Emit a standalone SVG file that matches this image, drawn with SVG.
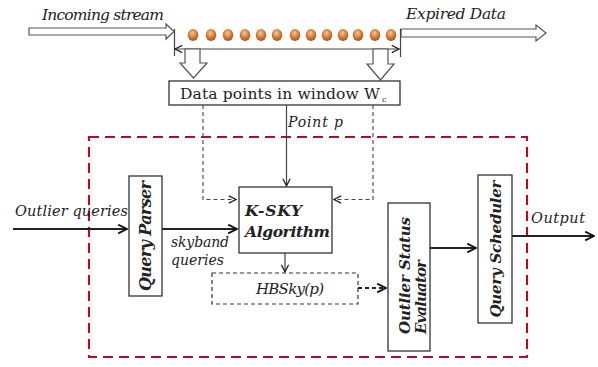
<svg xmlns="http://www.w3.org/2000/svg" width="598" height="367" viewBox="0 0 598 367">
<style>
.t{font-family:"DejaVu Serif","Liberation Serif",serif;fill:#222}
.it{font-style:italic}
.b{font-weight:bold}
.box{fill:#fff;stroke:#333;stroke-width:1.3}
.dbox{fill:#fff;stroke:#333;stroke-width:1.2;stroke-dasharray:4 3}
.hollow{fill:#fff;stroke:#555;stroke-width:1.2}
.ln{fill:none;stroke:#222;stroke-width:2}
.thin{fill:none;stroke:#444;stroke-width:1.2}
.dash{fill:none;stroke:#444;stroke-width:1.1;stroke-dasharray:4 3}
.red{fill:none;stroke:#b01020;stroke-width:2.2;stroke-dasharray:10 6}
</style>
<defs>
<radialGradient id="dot" cx="0.45" cy="0.35" r="0.65">
<stop offset="0" stop-color="#f6c9a0"/>
<stop offset="0.5" stop-color="#d98540"/>
<stop offset="1" stop-color="#a55418"/>
</radialGradient>
<marker id="open" viewBox="0 0 10 10" refX="9" refY="5" markerWidth="9" markerHeight="9" markerUnits="userSpaceOnUse" orient="auto-start-reverse">
<path d="M1,1 L9,5 L1,9" fill="none" stroke="#222" stroke-width="1.4"/>
</marker>
<marker id="openb" viewBox="0 0 10 10" refX="9" refY="5" markerWidth="11" markerHeight="11" markerUnits="userSpaceOnUse" orient="auto">
<path d="M1,1 L9,5 L1,9" fill="none" stroke="#111" stroke-width="1.6"/>
</marker>
</defs>

<g id="stream">
<path class="hollow" d="M29,28 L166,28 L166,24 L174,31.5 L166,39 L166,35 L29,35 Z"/>
<text class="t it" x="42" y="20" font-size="15.5" textLength="122">Incoming stream</text>
<path class="hollow" d="M401,29 L536,29 L536,25 L546,33 L536,41 L536,37 L401,37 Z"/>
<text class="t it" x="406" y="19" font-size="15.5" textLength="100">Expired Data</text>
<g id="dots">
<ellipse cx="193" cy="35" rx="5.3" ry="6" fill="url(#dot)"/>
<ellipse cx="211" cy="35" rx="5.3" ry="6" fill="url(#dot)"/>
<ellipse cx="228" cy="35" rx="5.3" ry="6" fill="url(#dot)"/>
<ellipse cx="245" cy="35" rx="5.3" ry="6" fill="url(#dot)"/>
<ellipse cx="261" cy="35" rx="5.3" ry="6" fill="url(#dot)"/>
<ellipse cx="277" cy="35" rx="5.3" ry="6" fill="url(#dot)"/>
<ellipse cx="295" cy="35" rx="5.3" ry="6" fill="url(#dot)"/>
<ellipse cx="311" cy="35" rx="5.3" ry="6" fill="url(#dot)"/>
<ellipse cx="327" cy="35" rx="5.3" ry="6" fill="url(#dot)"/>
<ellipse cx="343" cy="35" rx="5.3" ry="6" fill="url(#dot)"/>
<ellipse cx="358" cy="35" rx="5.3" ry="6" fill="url(#dot)"/>
<ellipse cx="375" cy="35" rx="5.3" ry="6" fill="url(#dot)"/>
<ellipse cx="391" cy="35" rx="5.3" ry="6" fill="url(#dot)"/>
</g>
<line class="thin" x1="174.5" y1="29" x2="174.5" y2="56"/>
<line class="thin" x1="400.5" y1="29" x2="400.5" y2="57"/>
<line class="thin" x1="175" y1="49" x2="399" y2="49" marker-start="url(#open)" marker-end="url(#open)"/>
<path class="hollow" d="M185,49 L200,49 L200,63 L207,63 L193.5,78 L180,63 L185,63 Z"/>
<path class="hollow" d="M373,49 L388,49 L388,64 L394,64 L380.5,80 L367,64 L373,64 Z"/>
</g>

<rect class="red" x="89" y="137" width="438" height="220"/>

<g id="window">
<rect class="box" x="169" y="81" width="231" height="24"/>
<text class="t" x="180" y="99" font-size="15.5" textLength="200">Data points in window W</text>
<text class="t" x="382" y="102" font-size="8">c</text>
</g>

<g id="connectors">
<line class="thin" x1="286.5" y1="105" x2="286.5" y2="186" marker-end="url(#open)"/>
<text class="t it" x="288" y="127" font-size="14" textLength="55">Point p</text>
<path class="dash" d="M203,105 V199.5 H236" marker-end="url(#open)"/>
<path class="dash" d="M373,105 V199.5 H334" marker-end="url(#open)"/>
<line class="ln" x1="13" y1="229" x2="127" y2="229" marker-end="url(#openb)"/>
<text class="t it" x="15" y="216" font-size="14.5" textLength="113">Outlier queries</text>
<line class="ln" x1="162" y1="229" x2="237" y2="229" marker-end="url(#openb)"/>
<text class="t it" x="171" y="247" font-size="14" textLength="58">skyband</text>
<text class="t it" x="171" y="265" font-size="14" textLength="53">queries</text>
<line class="thin" x1="285" y1="253" x2="285" y2="272" marker-end="url(#open)"/>
<line x1="358" y1="288" x2="386" y2="288" stroke="#222" stroke-width="2" stroke-dasharray="4 3" marker-end="url(#openb)"/>
<line class="ln" x1="430" y1="248" x2="476" y2="248" marker-end="url(#openb)"/>
<line class="ln" x1="512" y1="236" x2="594" y2="236" marker-end="url(#openb)"/>
<text class="t it" x="531" y="223" font-size="14.5" textLength="54">Output</text>
</g>

<g id="kasky">
<rect class="box" x="239" y="187" width="93" height="66"/>
<text class="t it b" x="245" y="216" font-size="15.5" textLength="57">K-SKY</text>
<text class="t it b" x="245" y="237" font-size="15.5" textLength="85">Algorithm</text>
</g>

<g id="hbsky">
<rect class="dbox" x="212" y="273" width="146" height="31"/>
<text class="t it" x="290" y="294" font-size="15" text-anchor="middle" textLength="68">HBSky(p)</text>
</g>

<g id="parser">
<rect class="box" x="129" y="176" width="33" height="120"/>
<text class="t it b" transform="translate(151,236) rotate(-90)" font-size="16" text-anchor="middle" textLength="110">Query Parser</text>
</g>

<g id="evaluator">
<rect class="box" x="388" y="203" width="42" height="148"/>
<text class="t it b" transform="translate(409.5,334) rotate(-90)" font-size="15" textLength="117">Outlier Status</text>
<text class="t it b" transform="translate(425.5,334) rotate(-90)" font-size="15" textLength="74">Evaluator</text>
</g>

<g id="scheduler">
<rect class="box" x="478" y="175" width="34" height="148"/>
<text class="t it b" transform="translate(501,249) rotate(-90)" font-size="15" text-anchor="middle" textLength="137">Query Scheduler</text>
</g>
</svg>
